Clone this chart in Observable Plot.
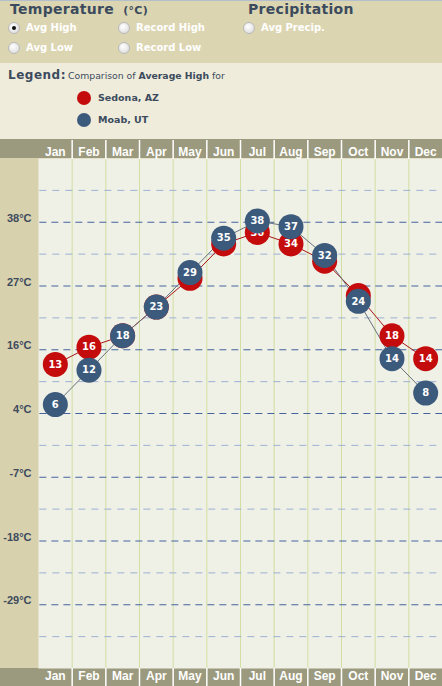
<!DOCTYPE html>
<html>
<head>
<meta charset="utf-8">
<script src="https://cdn.jsdelivr.net/npm/d3@7"></script>
<script src="https://cdn.jsdelivr.net/npm/@observablehq/plot@0.6"></script>
<style>
  html, body { margin: 0; padding: 0; background: #efecdb; }
  #wrap { width: 442px; position: relative; font-family: "DejaVu Sans", Verdana, sans-serif; }
  #top { position: relative; height: 63px; background: #dcd5b2; border-top: 1px solid #b3bfcc; box-sizing: border-box; overflow: hidden; }
  #legend { position: relative; height: 76px; background: #efecdb; }
  .h { position: absolute; font-weight: bold; color: #3b4b5d; font-size: 14px; letter-spacing: 0.3px; line-height: 16px; }
  .r { position: absolute; font-weight: bold; color: #ffffff; font-size: 10px; }
  .rb { position: absolute; width: 10px; height: 10px; border-radius: 50%; background: radial-gradient(circle at 40% 35%, #ffffff, #d6d6d6); border: 1px solid #b9b9b9; }
  .rb.on::after { content: ""; position: absolute; left: 3px; top: 3px; width: 4px; height: 4px; border-radius: 50%; background: #111; }
  .lg { position: absolute; color: #3b4b5d; }
  .sw { position: absolute; width: 14px; height: 14px; border-radius: 50%; }
  svg { display: block; }
</style>
</head>
<body>
<div id="wrap">
  <div id="top">
    <div class="h" style="left:10px; top:0px;">Temperature <span style="font-size:11px; margin-left:4px;">(°C)</span></div>
    <div class="h" style="left:248px; top:0px;">Precipitation</div>
    <div class="rb on" style="left:8px; top:21px;"></div>
    <div class="r" style="left:26px; top:21px;">Avg High</div>
    <div class="rb" style="left:118px; top:21px;"></div>
    <div class="r" style="left:136px; top:21px;">Record High</div>
    <div class="rb" style="left:243px; top:21px;"></div>
    <div class="r" style="left:261px; top:21px;">Avg Precip.</div>
    <div class="rb" style="left:8px; top:41px;"></div>
    <div class="r" style="left:26px; top:41px;">Avg Low</div>
    <div class="rb" style="left:118px; top:41px;"></div>
    <div class="r" style="left:136px; top:41px;">Record Low</div>
  </div>
  <div id="legend">
    <div class="lg" style="left:8px; top:5px; font-size:12px; font-weight:bold; letter-spacing:0.5px;">Legend:</div>
    <div class="lg" style="left:68px; top:7px; font-size:9.3px;">Comparison of <b>Average High</b> for</div>
    <div class="sw" style="left:77px; top:28px; background:#c40c0c;"></div>
    <div class="lg" style="left:98px; top:29px; font-size:9.5px; font-weight:bold;">Sedona, AZ</div>
    <div class="sw" style="left:77px; top:50px; background:#3c5a7c;"></div>
    <div class="lg" style="left:98px; top:51px; font-size:9.5px; font-weight:bold;">Moab, UT</div>
  </div>
  <div id="chart"></div>
</div>
<script>
// ---- data ----
const months = ["Jan","Feb","Mar","Apr","May","Jun","Jul","Aug","Sep","Oct","Nov","Dec"];
const sedonaHigh = [13, 16, 18, 23, 28, 34, 36, 34, 31, 25, 18, 14];
const moabHigh   = [6, 12, 18, 23, 29, 35, 38, 37, 32, 24, 14, 8];
const seriesNames = ["Sedona, AZ", "Moab, UT"];
// gridlines are whole Fahrenheit steps shown in Celsius
const majorTicksF = [100, 80, 60, 40, 20, 0, -20];
const majorTickLabels = ["38°C", "27°C", "16°C", "4°C", "-7°C", "-18°C", "-29°C"];
const minorTicksF = [110, 90, 70, 50, 30, 10, -10, -30];
const yDomainF = [-40, 120];

// ---- derived ----
const f2c = f => (f - 32) * 5 / 9;
const majorC = majorTicksF.map(f2c);
const minorC = minorTicksF.map(f2c);
const labelOf = new Map(majorC.map((c, i) => [c, majorTickLabels[i]]));
const rows = s => s.map((v, i) => ({m: i + 1, v}));
const sedona = rows(sedonaHigh);
const moab = rows(moabHigh);
const monthIdx = d3.range(1, 13);
const boundaries = d3.range(1.5, 12, 1);

const red = "#c40c0c", blue = "#3c5a7c";
const bandColor = "#9c9a7e", sideColor = "#d8d1ae", plotBg = "#eff0e6";
const H = 547, MT = 19, MB = 18;

const chart = Plot.plot({
  width: 442,
  height: H,
  marginTop: MT,
  marginBottom: MB,
  marginLeft: 38,
  marginRight: 0,
  style: {
    fontFamily: "'Liberation Sans', Arial, sans-serif",
    background: `linear-gradient(to bottom, ${bandColor} 0px, ${bandColor} ${MT}px, ${sideColor} ${MT}px, ${sideColor} ${H - MB}px, ${bandColor} ${H - MB}px, ${bandColor} ${H}px)`
  },
  x: {type: "linear", domain: [0.5, 12.5]},
  y: {type: "linear", domain: yDomainF.map(f2c)},
  marks: [
    Plot.frame({fill: plotBg, stroke: "none"}),
    Plot.ruleX(boundaries, {stroke: "#d2dfa2", strokeWidth: 1}),
    Plot.ruleY(minorC, {stroke: "#9db1d3", strokeDasharray: "7,6", x1: 0.54, x2: 12.5}),
    Plot.ruleY(majorC, {stroke: "#45649e", strokeDasharray: "7,5", x1: 0.54, x2: 12.5}),
    // month bands: white separators and labels, top and bottom
    Plot.axisX({anchor: "top", ticks: boundaries, tickSize: MT, stroke: "#ffffff", strokeWidth: 1.5, fill: "none", label: null}),
    Plot.axisX({anchor: "bottom", ticks: boundaries, tickSize: MB, stroke: "#ffffff", strokeWidth: 1.5, fill: "none", label: null}),
    Plot.axisX({anchor: "top", ticks: monthIdx, tickSize: 0, tickPadding: 3, tickFormat: i => months[i - 1], fill: "#ffffff", fontWeight: "bold", fontSize: 12, label: null}),
    Plot.axisX({anchor: "bottom", ticks: monthIdx, tickSize: 0, tickPadding: 3, tickFormat: i => months[i - 1], fill: "#ffffff", fontWeight: "bold", fontSize: 12, label: null}),
    Plot.axisY({ticks: majorC, tickSize: 0, tickPadding: 7, tickFormat: d => labelOf.get(d), fill: "#3d4b5c", fontWeight: "bold", fontSize: 11, dy: -4, label: null}),
    // series
    Plot.line(sedona, {x: "m", y: "v", stroke: "#a81414", strokeWidth: 1}),
    Plot.line(moab, {x: "m", y: "v", stroke: "#66717e", strokeWidth: 1}),
    Plot.dot(sedona, {x: "m", y: "v", r: 12.5, fill: red, title: d => `${seriesNames[0]}: ${d.v}`}),
    Plot.text(sedona, {x: "m", y: "v", text: "v", fill: "#ffffff", fontWeight: "bold", fontSize: 10, fontFamily: "'DejaVu Sans', Verdana, sans-serif"}),
    Plot.dot(moab, {x: "m", y: "v", r: 12.5, fill: blue, title: d => `${seriesNames[1]}: ${d.v}`}),
    Plot.text(moab, {x: "m", y: "v", text: "v", fill: "#ffffff", fontWeight: "bold", fontSize: 10, fontFamily: "'DejaVu Sans', Verdana, sans-serif"})
  ]
});
document.getElementById("chart").appendChild(chart);
</script>
</body>
</html>
